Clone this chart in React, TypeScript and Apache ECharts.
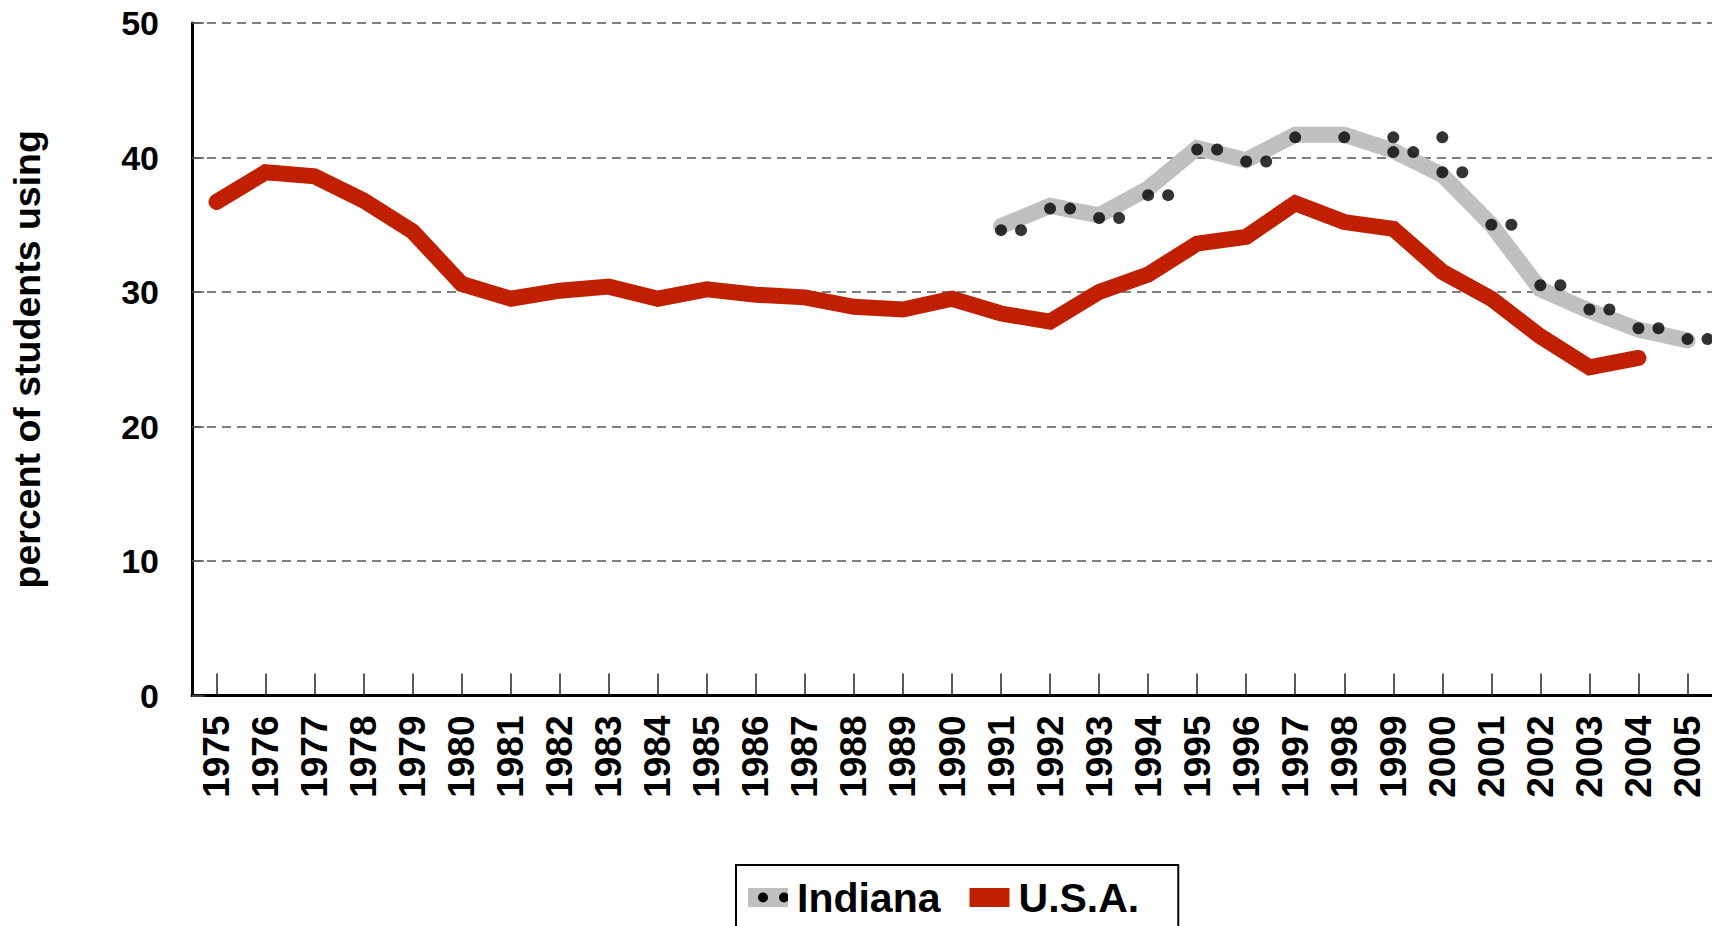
import React, { useEffect, useRef } from "react";
import * as echarts from "echarts";

const years = [
  "1975", "1976", "1977", "1978", "1979", "1980", "1981", "1982", "1983", "1984",
  "1985", "1986", "1987", "1988", "1989", "1990", "1991", "1992", "1993", "1994",
  "1995", "1996", "1997", "1998", "1999", "2000", "2001", "2002", "2003", "2004", "2005",
];

const usa = [
  36.7, 38.9, 38.6, 36.8, 34.5, 30.6, 29.5, 30.1, 30.4, 29.5,
  30.2, 29.8, 29.6, 28.9, 28.7, 29.5, 28.4, 27.8, 30.0, 31.3,
  33.6, 34.1, 36.6, 35.2, 34.7, 31.5, 29.5, 26.7, 24.4, 25.1, null,
];

const indiana = [
  null, null, null, null, null, null, null, null, null, null,
  null, null, null, null, null, null, 34.9, 36.4, 35.7, 37.7,
  40.7, 39.8, 41.7, 41.7, 40.5, 38.7, 35.0, 30.2, 28.6, 27.2, 26.4,
];

// black dots drawn on the Indiana band (as in the source graphic)
const indianaDotsA = [
  null, null, null, null, null, null, null, null, null, null,
  null, null, null, null, null, null, 34.6, 36.2, 35.5, 37.2,
  40.6, 39.7, 41.5, 41.5, 40.4, 38.9, 35.0, 30.5, 28.7, 27.3, 26.5,
];
const indianaDotsB = [
  null, null, null, null, null, null, null, null, null, null,
  null, null, null, null, null, null, 34.6, 36.2, 35.5, 37.2,
  40.6, 39.7, null, null, 40.4, 38.9, 35.0, 30.5, 28.7, 27.3, 26.5,
];
const indianaDotsC = [
  null, null, null, null, null, null, null, null, null, null,
  null, null, null, null, null, null, null, null, null, null,
  null, null, null, null, 41.5, 41.5, null, null, null, null, null,
];

const yTicks = { min: 0, max: 50, interval: 10 };

const FONT = "'Liberation Sans', Arial, sans-serif";
const RED = "#C02000";
const GREY = "#C0C0C0";

const indianaIconSvg =
  '<svg xmlns="http://www.w3.org/2000/svg" width="40" height="19" viewBox="0 0 40 19">' +
  '<rect x="0" y="0" width="40" height="19" fill="#C0C0C0"/>' +
  '<circle cx="15" cy="9.5" r="5" fill="#000"/>' +
  '<circle cx="36" cy="9.5" r="5" fill="#000"/>' +
  "</svg>";
const indianaIcon =
  "image://data:image/svg+xml;charset=utf-8," + encodeURIComponent(indianaIconSvg);

export default function App() {
  const ref = useRef<HTMLDivElement>(null);

  useEffect(() => {
    if (!ref.current) return;
    const chart = echarts.init(ref.current, null, { renderer: "svg" });
    const dotStyle = { color: "#000" };
    chart.setOption({
      animation: false,
      backgroundColor: "#fff",
      textStyle: { fontFamily: FONT },
      grid: { left: 191, right: 0, top: 23, bottom: 230.5 },
      legend: {
        left: 736,
        top: 865,
        orient: "horizontal",
        borderColor: "#000",
        borderWidth: 2,
        padding: [12, 39, 20, 12],
        itemWidth: 40,
        itemHeight: 19,
        itemGap: 29,
        textStyle: {
          fontSize: 41,
          fontWeight: "bold",
          color: "#000",
          fontFamily: FONT,
          padding: [0, 0, 0, 4],
        },
        data: [
          { name: "Indiana", icon: indianaIcon },
          { name: "U.S.A.", icon: "rect" },
        ],
      },
      xAxis: {
        type: "category",
        data: years,
        boundaryGap: true,
        axisLine: { show: true, lineStyle: { color: "#000", width: 3 } },
        axisTick: {
          show: true,
          inside: true,
          alignWithLabel: true,
          length: 22,
          lineStyle: { color: "#222", width: 1.5 },
        },
        axisLabel: {
          rotate: 90,
          interval: 0,
          margin: 20,
          fontSize: 37,
          fontWeight: "bold",
          color: "#000",
          fontFamily: FONT,
        },
        splitLine: { show: false },
      },
      yAxis: {
        type: "value",
        min: yTicks.min,
        max: yTicks.max,
        interval: yTicks.interval,
        name: "percent of students using",
        nameLocation: "middle",
        nameRotate: 90,
        nameGap: 146,
        nameTextStyle: {
          fontSize: 37.5,
          fontWeight: "bold",
          color: "#000",
          fontFamily: FONT,
        },
        axisLine: { show: true, lineStyle: { color: "#000", width: 3 } },
        axisTick: {
          show: true,
          inside: true,
          length: 12,
          lineStyle: { color: "#555", width: 1.5 },
        },
        axisLabel: {
          margin: 33,
          fontSize: 34,
          fontWeight: "bold",
          color: "#000",
          fontFamily: FONT,
        },
        splitLine: {
          show: true,
          lineStyle: { color: "#555", width: 1.5, type: [9, 6] },
        },
      },
      series: [
        {
          name: "Indiana",
          type: "line",
          data: indiana,
          color: GREY,
          showSymbol: false,
          symbol: "none",
          connectNulls: false,
          lineStyle: { color: GREY, width: 16, cap: "round", join: "miter" },
          z: 2,
        },
        {
          name: "U.S.A.",
          type: "line",
          data: usa,
          color: RED,
          showSymbol: false,
          symbol: "none",
          lineStyle: { color: RED, width: 16, cap: "round", join: "miter" },
          z: 3,
        },
        {
          name: "IndianaDotsA",
          type: "scatter",
          data: indianaDotsA,
          symbol: "circle",
          symbolSize: 12,
          itemStyle: dotStyle,
          z: 4,
        },
        {
          name: "IndianaDotsB",
          type: "scatter",
          data: indianaDotsB,
          symbol: "circle",
          symbolSize: 12,
          symbolOffset: [20, 0],
          itemStyle: dotStyle,
          z: 4,
        },
        {
          name: "IndianaDotsC",
          type: "scatter",
          data: indianaDotsC,
          symbol: "circle",
          symbolSize: 12,
          itemStyle: dotStyle,
          z: 4,
        },
      ],
    });
    return () => chart.dispose();
  }, []);

  return (
    <div
      ref={ref}
      style={{ position: "fixed", left: 0, top: 0, width: 1712, height: 926, background: "#fff" }}
    />
  );
}
